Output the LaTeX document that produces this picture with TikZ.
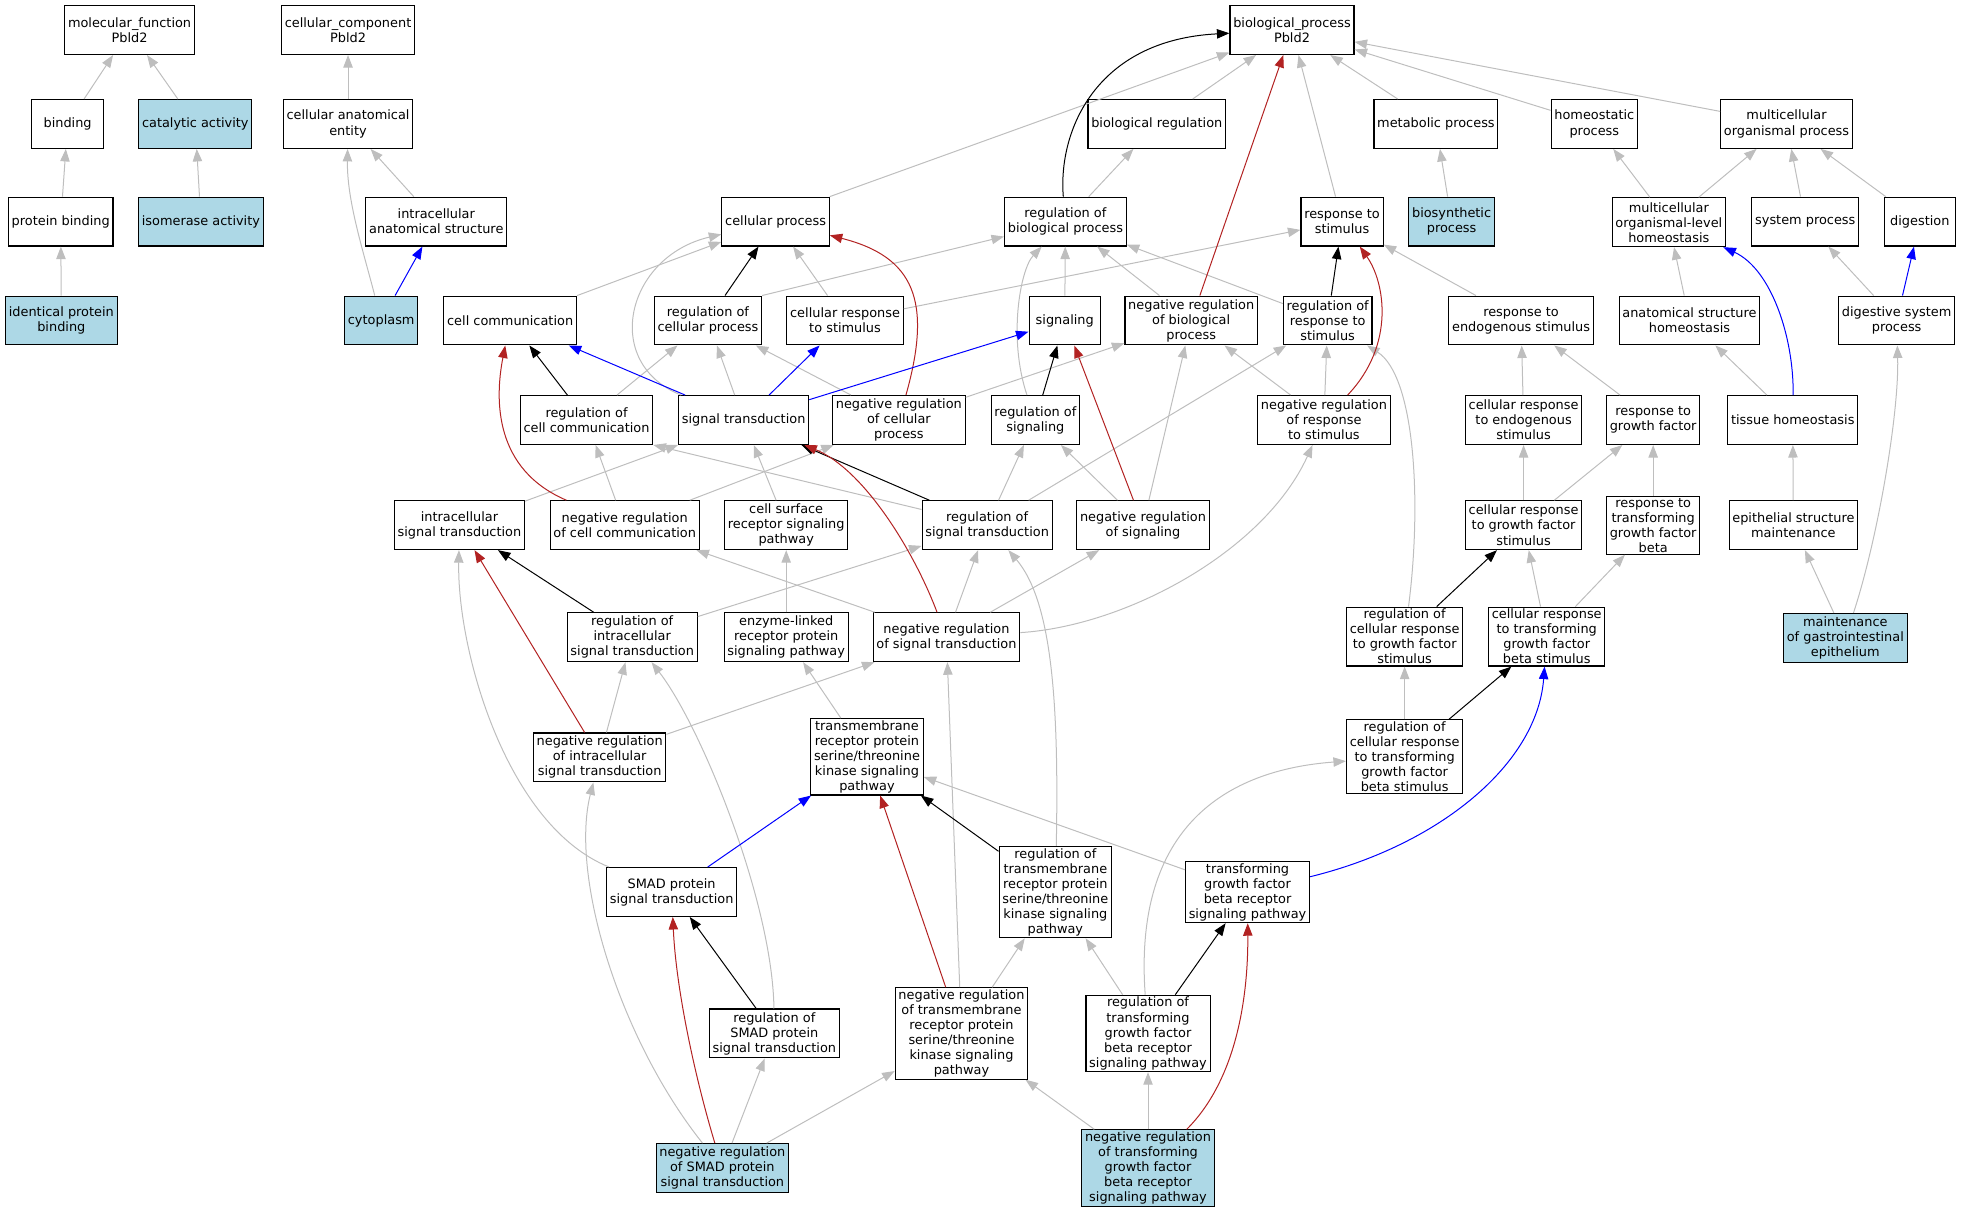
\documentclass[tikz,border=0pt]{standalone}
\usepackage{fontspec}
\setmainfont{DejaVu Sans}
\usetikzlibrary{arrows.meta}
\definecolor{isgray}{HTML}{BEBEBE}
\definecolor{negred}{HTML}{B22222}
\definecolor{partblue}{HTML}{0000FF}
\definecolor{annotblue}{HTML}{ADD8E6}

\begin{document}
\begin{tikzpicture}[x=1pt,y=-1pt]
\tikzset{term/.style = {shape=rectangle,draw,line width=.9pt,fill=white,align=center,inner xsep=2.6pt,inner ysep=1.5pt,minimum width=57pt,minimum height=39pt,font=\fontsize{10.3}{12}\selectfont}}
\tikzset{annot/.style = {term,fill=annotblue}}
\tikzset{edge/.style = {->,> = {Triangle[length=10pt,width=7.5pt]},line width=.8pt}}
\useasboundingbox (0,0) rectangle (1568,969);

% molecular function, cellular component
\node[term] (mf) at (103.5,24) {molecular\_function\\Pbld2};
\node[term] (cc) at (278,24) {cellular\_component\\Pbld2};
\node[term] (binding) at (54,99) {binding};
\node[annot] (cat) at (156,99) {catalytic activity};
\node[term] (cae) at (278,99) {cellular anatomical\\entity};
\node[term] (pb) at (48.5,177) {protein binding};
\node[annot] (iso) at (160.5,177) {isomerase activity};
\node[term] (ias) at (348.5,177) {intracellular\\anatomical structure};
\node[annot] (ipb) at (49,256) {identical protein\\binding};
\node[annot] (cyto) at (304.5,256) {cytoplasm};

% biological process
\node[term] (bp) at (1032,24) {biological\_process\\Pbld2};
\node[term] (bioreg) at (924,99) {biological regulation};
\node[term] (metab) at (1147,99) {metabolic process};
\node[term] (homeo) at (1273.5,99) {homeostatic\\process};
\node[term] (mop) at (1427,99) {multicellular\\organismal process};
\node[term] (cellp) at (619.5,177) {cellular process};
\node[term] (rbp) at (851,177) {regulation of\\biological process};
\node[term] (rstim) at (1072,177) {response to\\stimulus};
\node[annot] (biosyn) at (1159.5,177) {biosynthetic\\process};
\node[term] (molh) at (1333,177.5) {multicellular\\organismal-level\\homeostasis};
\node[term] (sysp) at (1442,177) {system process};
\node[term] (dig) at (1533.5,177) {digestion};
\node[term] (cellcomm) at (407.5,256) {cell communication};
\node[term] (rcp) at (565.5,256) {regulation of\\cellular process};
\node[term] (crs) at (675,256) {cellular response\\to stimulus};
\node[term] (sig) at (850.5,256) {signaling};
\node[term] (nrbp) at (951.5,256) {negative regulation\\of biological\\process};
\node[term] (rrs) at (1060.5,256) {regulation of\\response to\\stimulus};
\node[term] (rendo) at (1215,256) {response to\\endogenous stimulus};
\node[term] (ash) at (1349.5,256) {anatomical structure\\homeostasis};
\node[term] (dsp) at (1515,256) {digestive system\\process};
\node[term] (rcc) at (468.5,335.5) {regulation of\\cell communication};
\node[term] (sigtrans) at (594,335.5) {signal transduction};
\node[term] (nrcp) at (718,335.5) {negative regulation\\of cellular\\process};
\node[term] (rsig) at (827,335.5) {regulation of\\signaling};
\node[term] (nrrs) at (1057.5,335.5) {negative regulation\\of response\\to stimulus};
\node[term] (crendo) at (1217,335.5) {cellular response\\to endogenous\\stimulus};
\node[term] (rgf) at (1320.5,335.5) {response to\\growth factor};
\node[term] (tissue) at (1432,335.5) {tissue homeostasis};
\node[term] (ist) at (367,419.5) {intracellular\\signal transduction};
\node[term] (nrcc) at (499,419.5) {negative regulation\\of cell communication};
\node[term] (csrsp) at (628,419.5) {cell surface\\receptor signaling\\pathway};
\node[term] (rst) at (788.5,419.5) {regulation of\\signal transduction};
\node[term] (nrsig) at (913,419.5) {negative regulation\\of signaling};
\node[term] (crgf) at (1217,419.5) {cellular response\\to growth factor\\stimulus};
\node[term] (rtgfb) at (1320.5,419.5) {response to\\transforming\\growth factor\\beta};
\node[term] (esm) at (1432.5,419.5) {epithelial structure\\maintenance};
\node[term] (rist) at (505,509) {regulation of\\intracellular\\signal transduction};
\node[term] (elrp) at (628,509) {enzyme-linked\\receptor protein\\signaling pathway};
\node[term] (nrst) at (756,509) {negative regulation\\of signal transduction};
\node[term] (rcrgf) at (1122,508.5) {regulation of\\cellular response\\to growth factor\\stimulus};
\node[term] (crtgf) at (1235.5,508.5) {cellular response\\to transforming\\growth factor\\beta stimulus};
\node[annot] (mgie) at (1474,509.5) {maintenance\\of gastrointestinal\\epithelium};
\node[term] (nrist) at (479,605) {negative regulation\\of intracellular\\signal transduction};
\node[term] (tm) at (692.5,604.5) {transmembrane\\receptor protein\\serine/threonine\\kinase signaling\\pathway};
\node[term] (rcrtgf) at (1122,604.5) {regulation of\\cellular response\\to transforming\\growth factor\\beta stimulus};
\node[term] (smad) at (536.5,712.5) {SMAD protein\\signal transduction};
\node[term] (rtm) at (843,712.5) {regulation of\\transmembrane\\receptor protein\\serine/threonine\\kinase signaling\\pathway};
\node[term] (tgfb) at (996.5,712.5) {transforming\\growth factor\\beta receptor\\signaling pathway};
\node[term] (rsmad) at (618.5,825.5) {regulation of\\SMAD protein\\signal transduction};
\node[term] (nrtm) at (768,825.5) {negative regulation\\of transmembrane\\receptor protein\\serine/threonine\\kinase signaling\\pathway};
\node[term] (rtgf) at (917,825.5) {regulation of\\transforming\\growth factor\\beta receptor\\signaling pathway};
\node[annot] (nrsmad) at (577,933) {negative regulation\\of SMAD protein\\signal transduction};
\node[annot] (nrtgf) at (917,933) {negative regulation\\of transforming\\growth factor\\beta receptor\\signaling pathway};

% is_a edges
\draw[edge][isgray] (binding) to (mf);
\draw[edge][isgray] (cat) to (mf);
\draw[edge][isgray] (pb) to (binding);
\draw[edge][isgray] (iso) to (cat);
\draw[edge][isgray] (ipb) to (pb);
\draw[edge][isgray] (cae) to (cc);
\draw[edge][isgray] (ias) to (cae);
\draw[edge][isgray] (cyto) .. controls (290,200) and (277,160) .. (cae);
\draw[edge][isgray] (cellp.north east) to (bp);
\draw[edge][isgray] (bioreg) to (bp);
\draw[edge][isgray] (rstim) to (bp);
\draw[edge][isgray] (metab) to (bp);
\draw[edge][isgray] (homeo) to (bp);
\draw[edge][isgray] (mop) to (bp);
\draw[edge][isgray] (rbp) to (bioreg);
\draw[edge][isgray] (biosyn) to (metab);
\draw[edge][isgray] (molh) to (homeo);
\draw[edge][isgray] (molh) to (mop);
\draw[edge][isgray] (sysp) to (mop);
\draw[edge][isgray] (dig) to (mop);
\draw[edge][isgray] (ash) to (molh);
\draw[edge][isgray] (tissue) to (ash);
\draw[edge][isgray] (dsp) to (sysp);
\draw[edge][isgray] (esm) to (tissue);
\draw[edge][isgray] (mgie) to (esm);
\draw[edge][isgray] (mgie) .. controls (1500,430) and (1517,330) .. (dsp);
\draw[edge][isgray] (cellcomm) to (cellp);
\draw[edge][isgray] (sigtrans) .. controls (480,290) and (500,205) .. (cellp);
\draw[edge][isgray] (crs) to (cellp);
\draw[edge][isgray] (crs) to (rstim);
\draw[edge][isgray] (rcp.north east) to (rbp);
\draw[edge][isgray] (rsig) .. controls (805,270) and (815,215) .. (rbp);
\draw[edge][isgray] (sig) to (rbp);
\draw[edge][isgray] (nrbp) to (rbp);
\draw[edge][isgray] (rrs) to (rbp);
\draw[edge][isgray] (rendo) to (rstim);
\draw[edge][isgray] (crendo) to (rendo);
\draw[edge][isgray] (rgf) to (rendo);
\draw[edge][isgray] (crgf) to (crendo);
\draw[edge][isgray] (crgf) to (rgf);
\draw[edge][isgray] (rtgfb) to (rgf);
\draw[edge][isgray] (crtgf) to (crgf);
\draw[edge][isgray] (crtgf) to (rtgfb);
\draw[edge][isgray] (rcrgf) .. controls (1136,400) and (1130,300) .. (rrs);
\draw[edge][isgray] (rcrtgf) to (rcrgf);
\draw[edge][isgray] (rtgf) .. controls (905,660) and (980,615) .. (rcrtgf);
\draw[edge][isgray] (rcc) to (rcp);
\draw[edge][isgray] (sigtrans) to (rcp);
\draw[edge][isgray] (nrcp) to (rcp);
\draw[edge][isgray] (nrcp) to (nrbp);
\draw[edge][isgray] (nrcc) to (rcc);
\draw[edge][isgray] (nrcc) to (nrcp);
\draw[edge][isgray] (ist) to (sigtrans.south west);
\draw[edge][isgray] (csrsp) to (sigtrans);
\draw[edge][isgray] (rst) to (rcc.south east);
\draw[edge][isgray] (rst) to (rsig);
\draw[edge][isgray] (rst) to (rrs);
\draw[edge][isgray] (nrsig) to (rsig);
\draw[edge][isgray] (nrsig) to (nrbp);
\draw[edge][isgray] (nrrs) to (rrs);
\draw[edge][isgray] (nrrs) to (nrbp);
\draw[edge][isgray] (rist) to (rst);
\draw[edge][isgray] (nrist) to (rist);
\draw[edge][isgray] (nrist) to (nrst);
\draw[edge][isgray] (nrst) to (rst);
\draw[edge][isgray] (nrst) to (nrsig);
\draw[edge][isgray] (nrst) to (nrcc);
\draw[edge][isgray] (nrst) .. controls (900,500) and (1010,440) .. (nrrs);
\draw[edge][isgray] (elrp) to (csrsp);
\draw[edge][isgray] (tm) to (elrp);
\draw[edge][isgray] (tgfb) to (tm);
\draw[edge][isgray] (smad) .. controls (405,660) and (365,520) .. (ist);
\draw[edge][isgray] (rtm) .. controls (846,560) and (840,480) .. (rst);
\draw[edge][isgray] (nrtm) to (rtm);
\draw[edge][isgray] (nrtm) to (nrst);
\draw[edge][isgray] (rtgf) to (rtm);
\draw[edge][isgray] (rsmad) .. controls (617,720) and (560,580) .. (rist);
\draw[edge][isgray] (nrsmad) to (rsmad);
\draw[edge][isgray] (nrsmad) to (nrtm);
\draw[edge][isgray] (nrsmad) .. controls (495,830) and (455,700) .. (nrist);
\draw[edge][isgray] (nrtgf) to (rtgf);
\draw[edge][isgray] (nrtgf) to (nrtm);

% regulates
\draw[edge][black] (rbp) .. controls (845,105) and (875,32) .. (bp);
\draw[edge][black] (rcp) to (cellp);
\draw[edge][black] (rcc) to (cellcomm);
\draw[edge][black] (rsig) to (sig);
\draw[edge][black] (rrs) to (rstim);
\draw[edge][black] (rst) to (sigtrans);
\draw[edge][black] (rist) to (ist);
\draw[edge][black] (rcrgf) to (crgf);
\draw[edge][black] (rcrtgf) to (crtgf);
\draw[edge][black] (rtm) to (tm);
\draw[edge][black] (rsmad) to (smad);
\draw[edge][black] (rtgf) to (tgfb);

% negatively regulates
\draw[edge][negred] (nrbp) to (bp);
\draw[edge][negred] (nrcp) .. controls (745,240) and (730,205) .. (cellp);
\draw[edge][negred] (nrcc) .. controls (395,375) and (395,320) .. (cellcomm);
\draw[edge][negred] (nrsig) to (sig);
\draw[edge][negred] (nrrs) .. controls (1115,275) and (1106,225) .. (rstim);
\draw[edge][negred] (nrst) .. controls (730,440) and (690,375) .. (sigtrans);
\draw[edge][negred] (nrist) to (ist);
\draw[edge][negred] (nrtm) to (tm);
\draw[edge][negred] (nrsmad) .. controls (555,860) and (540,790) .. (smad);
\draw[edge][negred] (nrtgf) .. controls (990,860) and (997,790) .. (tgfb);

% part_of
\draw[edge][partblue] (cyto) to (ias);
\draw[edge][partblue] (sigtrans) to (cellcomm);
\draw[edge][partblue] (sigtrans) to (sig);
\draw[edge][partblue] (sigtrans) to (crs);
\draw[edge][partblue] (tissue) .. controls (1433,270) and (1415,215) .. (molh);
\draw[edge][partblue] (dsp) to (dig);
\draw[edge][partblue] (smad) to (tm);
\draw[edge][partblue] (tgfb) .. controls (1150,675) and (1228,610) .. (crtgf);

\end{tikzpicture}
\end{document}
